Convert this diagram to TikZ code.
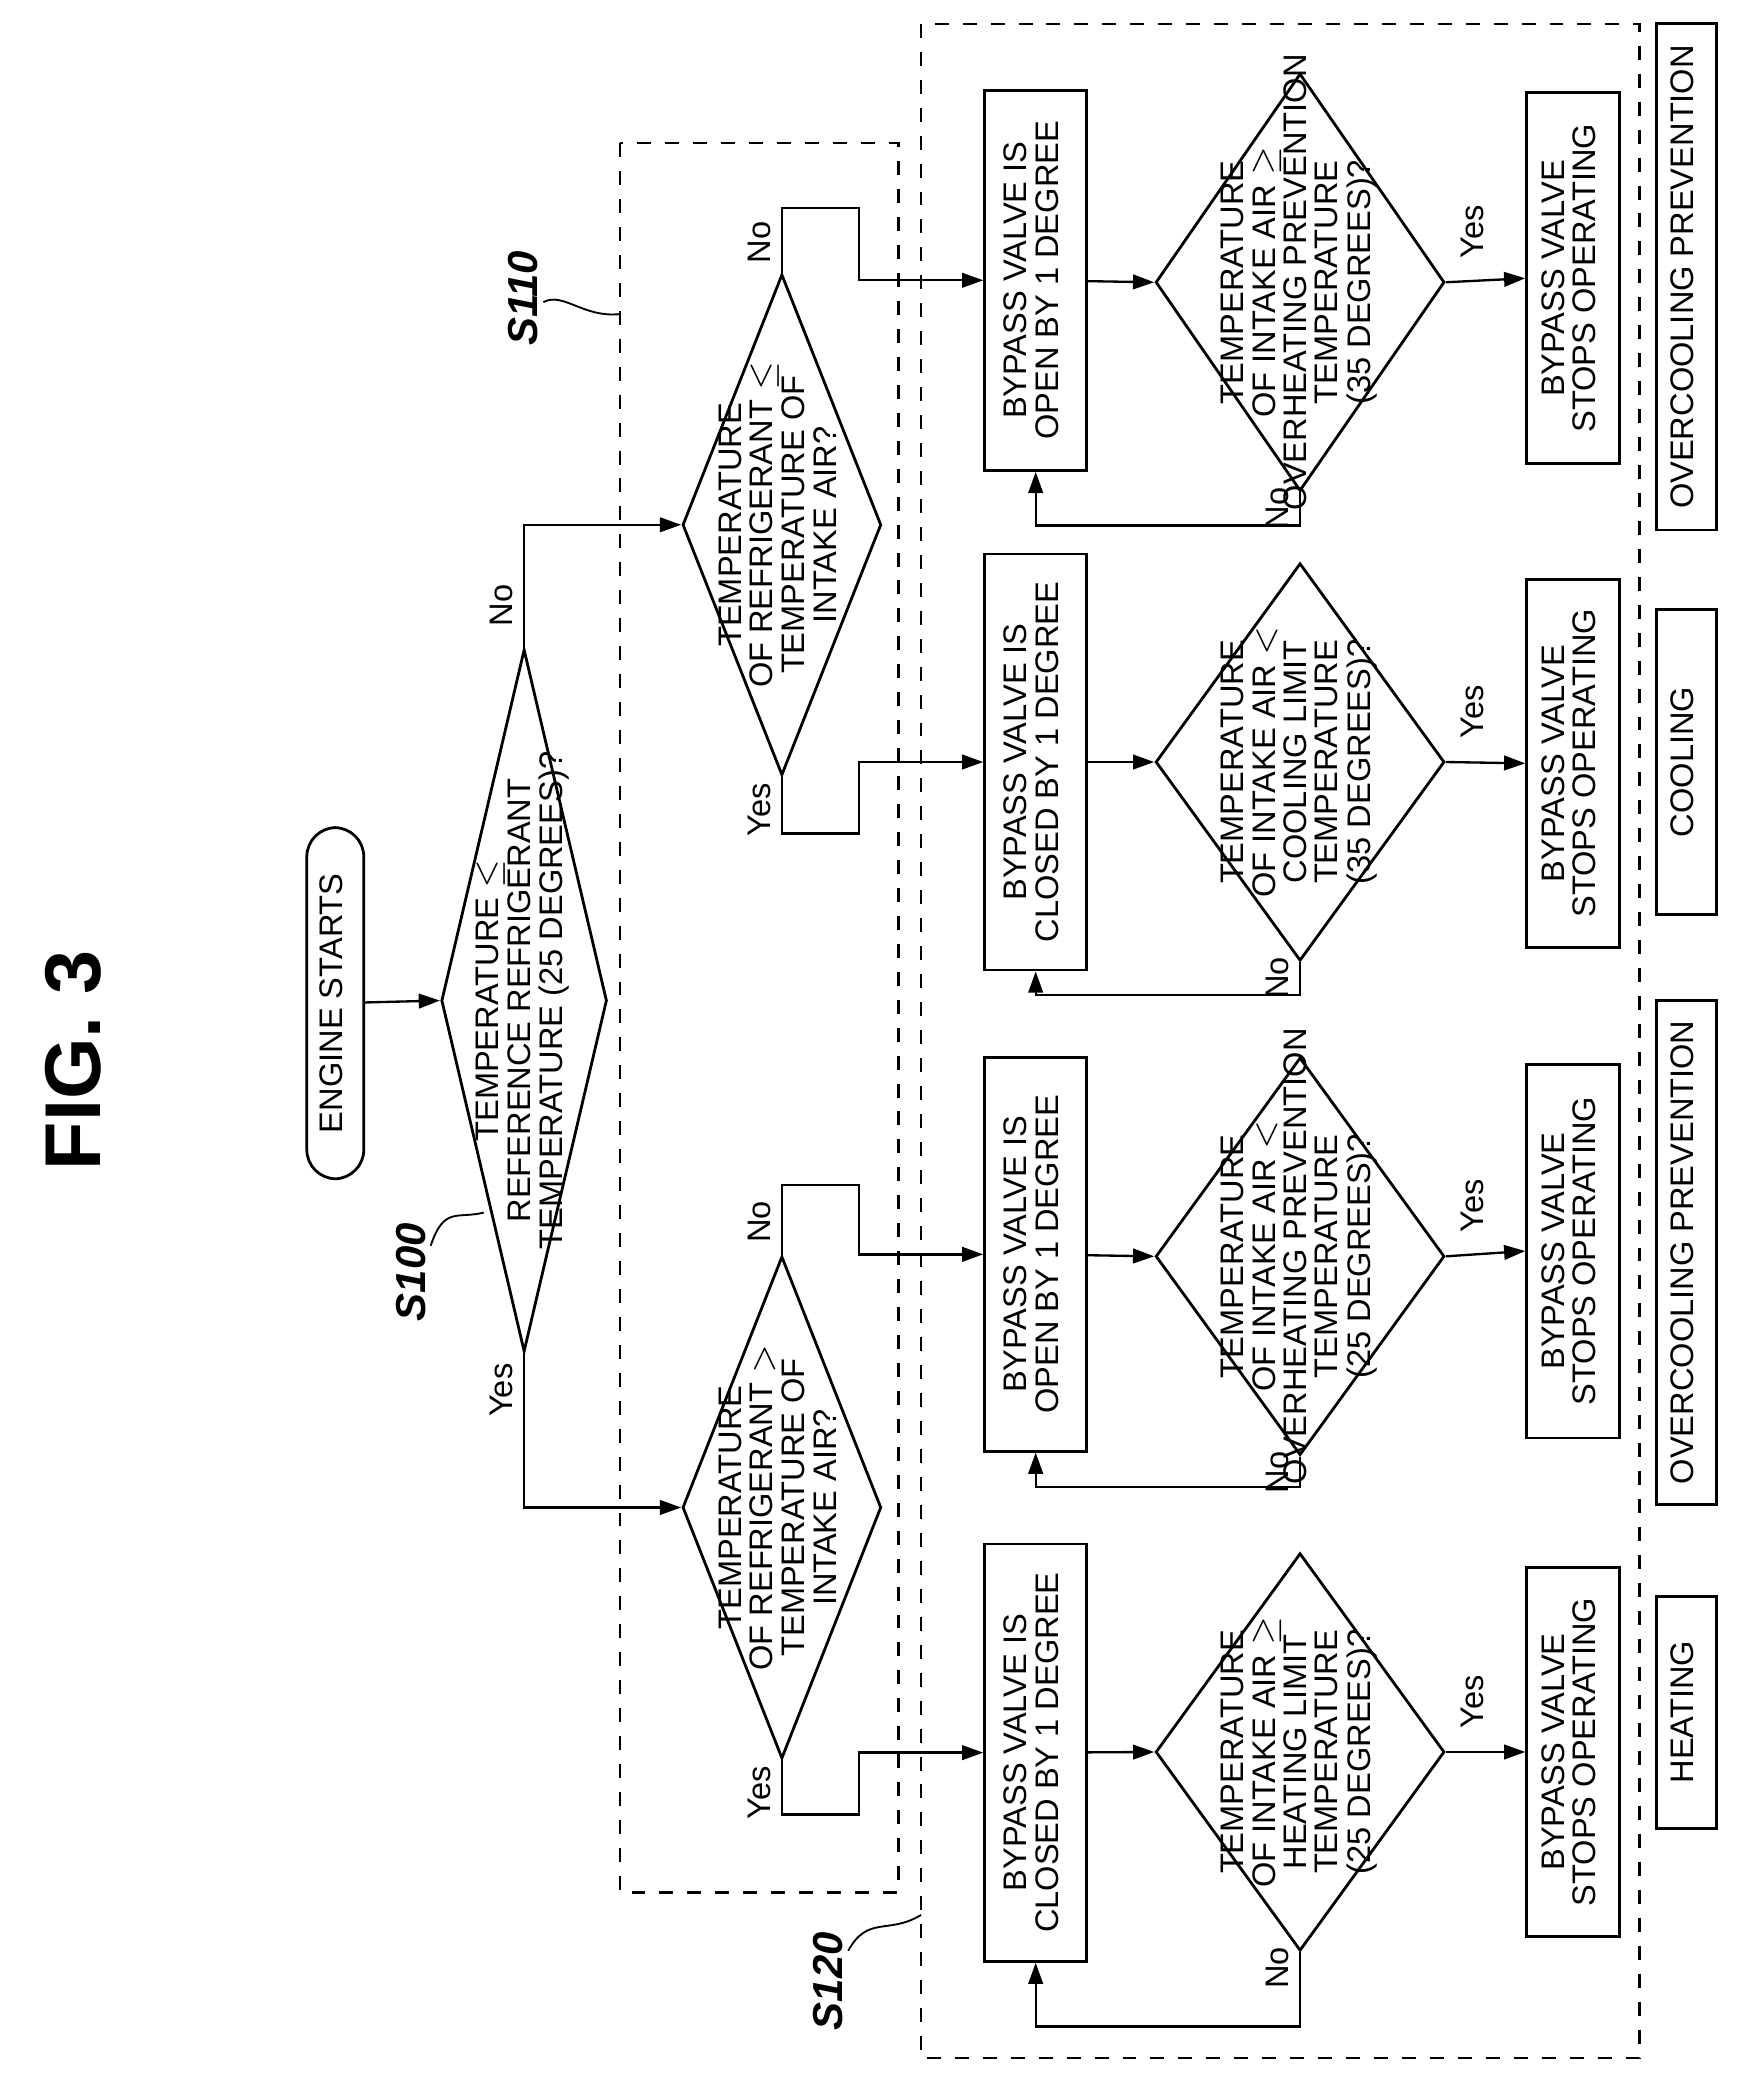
\documentclass[tikz,border=0pt]{standalone}
\usepackage{fontspec}
\setmainfont{Liberation Sans}
\usetikzlibrary{shapes.geometric,arrows.meta,calc}
\newcommand{\vt}[1]{\rotatebox{90}{\renewcommand{\arraystretch}{0.82}\begin{tabular}{@{}c@{}}#1\end{tabular}}}
\tikzset{
  every node/.style={font=\fontsize{7}{7.7}\selectfont},
  box/.style={draw,line width=0.6pt,minimum width=0.77cm,inner sep=0pt},
  stopbox/.style={draw,line width=0.6pt,minimum width=0.70cm,inner sep=0pt},
  tagbox/.style={draw,line width=0.6pt,minimum width=0.45cm,inner sep=0pt},
  dia/.style={draw,diamond,line width=0.6pt,inner sep=0pt},
  arr/.style={line width=0.5pt,-{Triangle[length=1.6mm,width=1.1mm]}},
  lbl/.style={rotate=90,inner sep=1pt},
  steplbl/.style={rotate=90,font=\fontsize{9}{9}\selectfont\bfseries\itshape\rmfamily},
  zone/.style={draw,dashed,line width=0.5pt}
}
\begin{document}
\begin{tikzpicture}
\useasboundingbox (0,0) rectangle (13.10,-15.65);
% Titel
\node[rotate=90,font=\fontsize{17}{17}\selectfont\bfseries] (fig) at (0.55,-8.00) {FIG. 3};
% Gestrichelte Bereiche
\draw[zone] (4.68,-1.08) rectangle (6.78,-14.28);
\draw[zone] (6.95,-0.18) rectangle (12.37,-15.53);
% Start und erste Abfrage
\node[draw,rounded corners=0.22cm,line width=0.6pt,minimum width=0.43cm,minimum height=2.65cm,inner sep=0pt] (start) at (2.53,-7.57) {\vt{ENGINE STARTS}};
\node[dia,minimum width=1.25cm,minimum height=5.30cm] (s100) at (3.955,-7.55) {};
\node at (s100) {\vt{TEMPERATURE $\le$\\REFERENCE REFRIGERANT\\TEMPERATURE (25 DEGREES)?}};
% Abfragen S110
\node[dia,minimum width=1.50cm,minimum height=3.78cm] (dup) at (5.90,-3.96) {};
\node at (dup) {\vt{TEMPERATURE\\OF REFRIGERANT $\le$\\TEMPERATURE OF\\INTAKE AIR?}};
\node[dia,minimum width=1.50cm,minimum height=3.79cm] (dlo) at (5.90,-11.375) {};
\node at (dlo) {\vt{TEMPERATURE\\OF REFRIGERANT $>$\\TEMPERATURE OF\\INTAKE AIR?}};
% Ventilschritte
\node[box,minimum height=2.87cm] (b1) at (7.815,-2.115) {\vt{BYPASS VALVE IS\\OPEN BY 1 DEGREE}};
\node[box,minimum height=3.14cm] (b2) at (7.815,-5.75) {\vt{BYPASS VALVE IS\\CLOSED BY 1 DEGREE}};
\node[box,minimum height=2.97cm] (b3) at (7.815,-9.465) {\vt{BYPASS VALVE IS\\OPEN BY 1 DEGREE}};
\node[box,minimum height=3.15cm] (b4) at (7.815,-13.225) {\vt{BYPASS VALVE IS\\CLOSED BY 1 DEGREE}};
% Grenzabfragen
\node[dia,minimum width=2.18cm,minimum height=3.15cm] (q1) at (9.81,-2.13) {};
\node at (q1) {\vt{TEMPERATURE\\OF INTAKE AIR $\ge$\\OVERHEATING PREVENTION\\TEMPERATURE\\(35 DEGREES)?}};
\node[dia,minimum width=2.18cm,minimum height=3.00cm] (q2) at (9.81,-5.75) {};
\node at (q2) {\vt{TEMPERATURE\\OF INTAKE AIR $<$\\COOLING LIMIT\\TEMPERATURE\\(35 DEGREES)?}};
\node[dia,minimum width=2.18cm,minimum height=3.00cm] (q3) at (9.81,-9.48) {};
\node at (q3) {\vt{TEMPERATURE\\OF INTAKE AIR $<$\\OVERHEATING PREVENTION\\TEMPERATURE\\(25 DEGREES)?}};
\node[dia,minimum width=2.18cm,minimum height=3.00cm] (q4) at (9.81,-13.22) {};
\node at (q4) {\vt{TEMPERATURE\\OF INTAKE AIR $\ge$\\HEATING LIMIT\\TEMPERATURE\\(25 DEGREES)?}};
% Endzustaende
\foreach \n/\y/\h in {1/2.10/2.80, 2/5.76/2.78, 3/9.44/2.82, 4/13.22/2.79}
  \node[stopbox,minimum height=\h cm] (t\n) at (11.87,-\y) {\vt{BYPASS VALVE\\STOPS OPERATING}};
% Betriebsarten
\node[tagbox,minimum height=3.82cm] (m1) at (12.725,-2.09) {\vt{OVERCOOLING PREVENTION}};
\node[tagbox,minimum height=2.30cm] (m2) at (12.725,-5.75) {\vt{COOLING}};
\node[tagbox,minimum height=3.80cm] (m3) at (12.725,-9.45) {\vt{OVERCOOLING PREVENTION}};
\node[tagbox,minimum height=1.75cm] (m4) at (12.725,-12.92) {\vt{HEATING}};
% Verbindungen
\draw[arr] (start) -- (s100.west);
\draw[arr] (s100.north) |- (dup.west);
\draw[arr] (s100.south) |- (dlo.west);
\node[lbl] at ($(s100.north)+(-0.17,0.32)$) {No};
\node[lbl] at ($(s100.south)+(-0.17,-0.28)$) {Yes};
\draw[arr] (dup.north) |- ++(0.58,0.49) |- (b1.west);
\draw[arr] (dup.south) |- ++(0.58,-0.43) |- (b2.west);
\draw[arr] (dlo.north) |- ++(0.58,0.53) |- (b3.west);
\draw[arr] (dlo.south) |- ++(0.58,-0.41) |- (b4.west);
\node[lbl] at ($(dup.north)+(-0.17,0.23)$) {No};
\node[lbl] at ($(dup.south)+(-0.17,-0.25)$) {Yes};
\node[lbl] at ($(dlo.north)+(-0.17,0.25)$) {No};
\node[lbl] at ($(dlo.south)+(-0.17,-0.25)$) {Yes};
\foreach \n/\d in {1/0.25, 2/0.25, 3/0.23, 4/0.56} {
  \draw[arr] (b\n) -- (q\n.west);
  \draw[arr] (q\n.east) -- (t\n.west);
  \draw[arr] (q\n.south) -- ++(0,-\d) -| (b\n.south);
  \node[lbl] at ($(q\n.east)+(0.20,0.38)$) {Yes};
  \node[lbl] at ($(q\n.south)+(-0.17,-0.12)$) {No};
}
% Schrittnummern
\node[steplbl] (l100) at (3.10,-9.60) {S100};
\draw[line width=0.4pt] (3.25,-9.40) .. controls (3.35,-9.10) and (3.45,-9.20) .. (3.65,-9.15);
\node[steplbl] (l110) at (3.95,-2.25) {S110};
\draw[line width=0.4pt] (4.10,-2.28) .. controls (4.25,-2.20) and (4.40,-2.40) .. (4.68,-2.37);
\node[steplbl] (l120) at (6.25,-14.95) {S120};
\draw[line width=0.4pt] (6.40,-14.72) .. controls (6.55,-14.45) and (6.70,-14.60) .. (6.95,-14.45);
\end{tikzpicture}
\end{document}
